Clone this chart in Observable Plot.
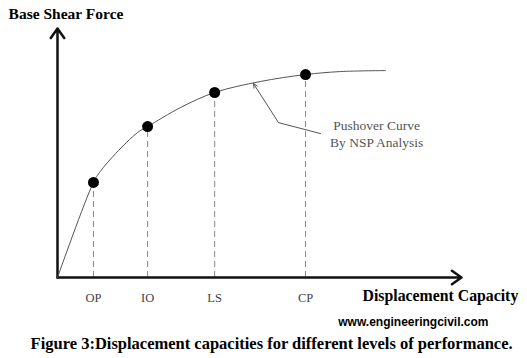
<!DOCTYPE html>
<html>
<head>
<meta charset="utf-8">
<script src="https://cdn.jsdelivr.net/npm/d3@7"></script>
<script src="https://cdn.jsdelivr.net/npm/@observablehq/plot@0.6"></script>
<style>
  html, body { margin: 0; padding: 0; background: #fff; }
</style>
</head>
<body>
<div id="chart"></div>
<script>
// Pushover curve (displacement vs base shear, arbitrary units 0-100)
const displacement = [0, 8.9, 10.6, 14.4, 19.8, 22.3, 30.5, 38.9, 50.2, 61.4, 70, 81.2];
const baseShear    = [0, 38.2, 42.6, 49.8, 58.2, 60.6, 68.3, 74.3, 78.7, 81.5, 82.7, 83.1];

// Performance levels
const levels      = ["OP", "IO", "LS", "CP"];
const levelDisp   = [8.9, 22.3, 38.9, 61.4];
const levelShear  = [38.2, 60.6, 74.3, 81.5];

// Annotation leader (tip, bend, end)
const leaderX = [48.5, 54.7, 65.1];
const leaderY = [77.9, 62.2, 57.8];
const noteLines = ["Pushover Curve", "By NSP Analysis"];
const noteX = 79.0;
const noteY = [61, 54.2];

const curve = displacement.map((d, i) => ({x: d, y: baseShear[i]}));
const pts = levels.map((l, i) => ({label: l, x: levelDisp[i], y: levelShear[i]}));
const leader = leaderX.map((x, i) => ({x, y: leaderY[i]}));
const notes = noteLines.map((t, i) => ({t, x: noteX, y: noteY[i]}));

const serif = "'Liberation Serif', 'Times New Roman', serif";

const chart = Plot.plot({
  width: 527,
  height: 358,
  marginLeft: 57,
  marginRight: 66,
  marginTop: 28,
  marginBottom: 81,
  x: {domain: [0, 100], axis: null},
  y: {domain: [0, 100], axis: null},
  style: {background: "#fff", fontFamily: serif},
  marks: [
    // dashed drop lines
    Plot.ruleX(pts, {x: "x", y1: 0, y2: "y", stroke: "#888", strokeWidth: 1, strokeDasharray: "6,4"}),
    // axes with arrowheads
    Plot.arrow([{x1: 0, y1: 0, x2: 0, y2: 100}], {x1: "x1", y1: "y1", x2: "x2", y2: "y2", stroke: "#111", strokeWidth: 2.5, headLength: 7, headAngle: 70}),
    Plot.arrow([{x1: 0, y1: 0, x2: 100, y2: 0}], {x1: "x1", y1: "y1", x2: "x2", y2: "y2", stroke: "#111", strokeWidth: 2.5, headLength: 7, headAngle: 70}),
    // pushover curve
    Plot.line(curve, {x: "x", y: "y", stroke: "#555", strokeWidth: 1, curve: "catmull-rom"}),
    // performance points
    Plot.dot(pts, {x: "x", y: "y", r: 5.5, fill: "#000", stroke: "none"}),
    // annotation leader
    Plot.line(leader.slice(1), {x: "x", y: "y", stroke: "#555", strokeWidth: 1}),
    Plot.arrow([{x1: leaderX[1], y1: leaderY[1], x2: leaderX[0], y2: leaderY[0]}], {x1: "x1", y1: "y1", x2: "x2", y2: "y2", stroke: "#555", strokeWidth: 1, headLength: 7, headAngle: 50}),
    Plot.text(notes, {x: "x", y: "y", text: "t", fontSize: 13.5, fill: "#555", textAnchor: "middle", fontFamily: serif}),
    // level labels
    Plot.text(pts, {x: "x", y: -8.4, text: "label", fontSize: 12.5, fill: "#444", textAnchor: "middle", fontFamily: serif}),
    // axis titles
    Plot.text(["Base Shear Force"], {x: -12.1, y: 106, text: d => d, textAnchor: "start", fontSize: 15.5, fontWeight: "bold", fill: "#000", fontFamily: serif}),
    Plot.text(["Displacement Capacity"], {x: 75.5, y: -7.6, text: d => d, textAnchor: "start", fontSize: 15.8, fontWeight: "bold", fill: "#000", fontFamily: serif}),
    // watermark & caption
    Plot.text(["www.engineeringcivil.com"], {x: 69.5, y: -18.1, text: d => d, textAnchor: "start", fontSize: 12, fontWeight: "bold", fill: "#000", fontFamily: "'Liberation Sans', Arial, sans-serif"}),
    Plot.text(["Figure 3:Displacement capacities for different levels of performance."], {x: 53, y: -26.5, text: d => d, textAnchor: "middle", fontSize: 16.5, fontWeight: "bold", fill: "#000", fontFamily: serif})
  ]
});
document.getElementById("chart").appendChild(chart);
</script>
</body>
</html>
